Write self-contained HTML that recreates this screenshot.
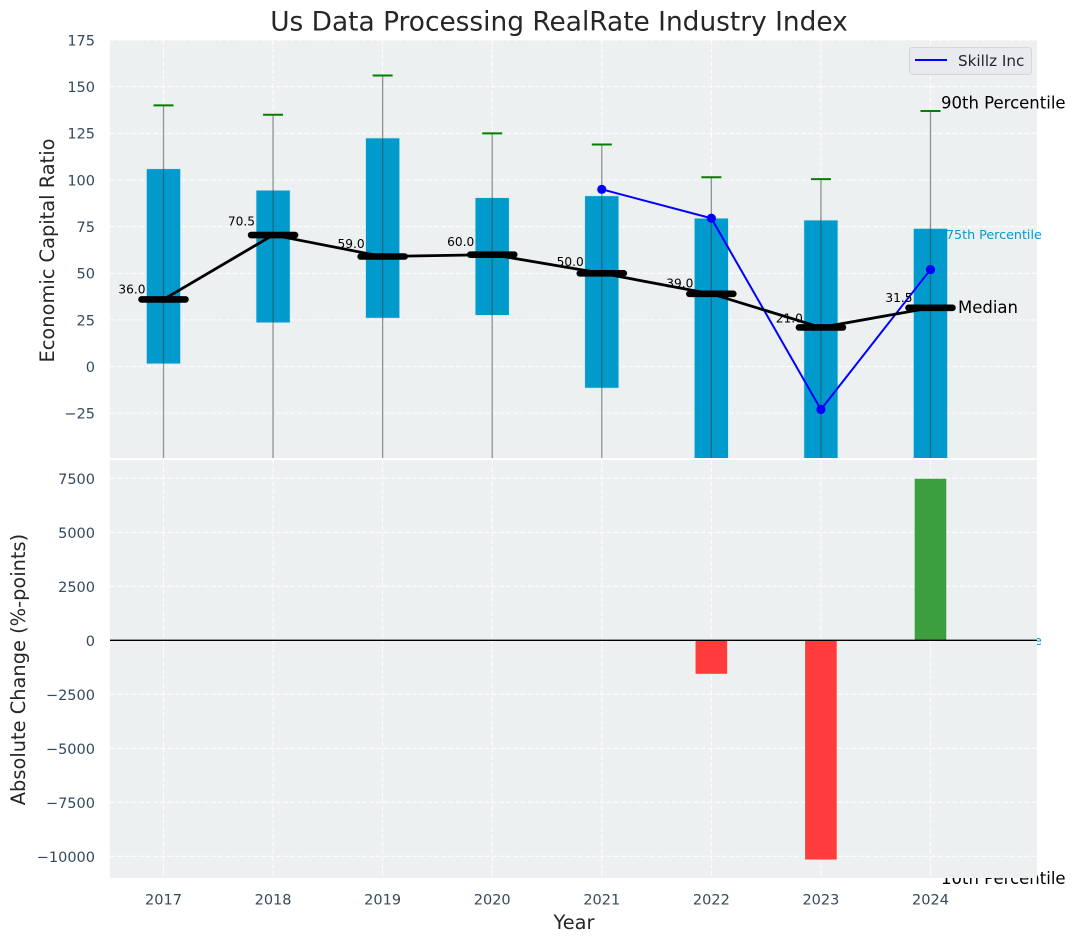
<!DOCTYPE html>
<html lang="en">
<head>
<meta charset="utf-8">
<title>Us Data Processing RealRate Industry Index</title>
<style>
html,body{margin:0;padding:0;background:#fff;}
svg{display:block;font-family:"DejaVu Sans","Liberation Sans",sans-serif;}
</style>
</head>
<body>
<svg id="chart" xmlns="http://www.w3.org/2000/svg" width="1076" height="942" viewBox="0 0 1076 942">
  <defs>
    <clipPath id="top-clip"><rect x="110" y="40" width="927" height="418"/></clipPath>
  </defs>
  <text x="559" y="30.5" text-anchor="middle" font-size="26.4" fill="#262626">Us Data Processing RealRate Industry Index</text>
  <rect x="110" y="40" width="927" height="418" fill="#ecf0f1"/>
  <g id="top-grid"></g>
  <g id="top-marks" clip-path="url(#top-clip)"></g>
  <g id="top-overflow"></g>
  <rect x="110" y="460" width="927" height="418" fill="#ecf0f1"/>
  <g id="bottom-grid"></g>
  <g id="bottom-marks"></g>
  <g id="tick-labels"></g>
  <text transform="translate(54,250.5) rotate(-90)" text-anchor="middle" font-size="19.4" fill="#262626">Economic Capital Ratio</text>
  <text transform="translate(25,669.5) rotate(-90)" text-anchor="middle" font-size="19.4" fill="#262626">Absolute Change (%-points)</text>
  <text x="574" y="929" text-anchor="middle" font-size="19.4" fill="#262626">Year</text>
  <g>
    <rect x="909.5" y="47.5" width="122" height="27" rx="3" fill="#e8eaf0" stroke="#d5d7da" stroke-width="1"/>
    <line x1="915" y1="60" x2="947" y2="60" stroke="#0000ff" stroke-width="2"/>
    <text x="958" y="66" font-size="15.2" fill="#262626">Skillz Inc</text>
  </g>
</svg>
<script>
const years = [2017, 2018, 2019, 2020, 2021, 2022, 2023, 2024];
const p90 = [140, 135, 156, 125, 119, 101.5, 100.5, 137];
const p75 = [106, 94.5, 122.5, 90.5, 91.5, 79.5, 78.5, 74];
const medians = [36, 70.5, 59, 60, 50, 39, 21, 31.5];
const p25 = [1.5, 23.5, 26, 27.5, -11.5, -60, -65, -60];
const p10 = [-90, -85, -80, -85, -90, -120, -130, -100];
const skillzYears = [2021, 2022, 2023, 2024];
const skillzValues = [95, 79.5, -23, 52];
const changeYears = [2022, 2023, 2024];
const changeValues = [-1550, -10150, 7480];
const topTicks = [-25, 0, 25, 50, 75, 100, 125, 150, 175];
const bottomTicks = [-10000, -7500, -5000, -2500, 0, 2500, 5000, 7500];

const NS = 'http://www.w3.org/2000/svg';
const xScale = function (year) { return 163.5 + (year - 2017) * 109.57; };
const yTop = function (v) { return 366.6 - v * 1.866; };
const yBottom = function (v) { return 640.3 - v * 0.0216; };

function make(parent, tag, props, text) {
  const el = document.createElementNS(NS, tag);
  Object.keys(props).forEach(function (k) { el.setAttribute(k, props[k]); });
  if (text !== undefined) { el.textContent = text; }
  parent.appendChild(el);
  return el;
}
function fmt(v) {
  return (v < 0 ? '\u2212' : '') + Math.abs(v);
}

const topGrid = document.getElementById('top-grid');
const bottomGrid = document.getElementById('bottom-grid');
const topMarks = document.getElementById('top-marks');
const topOverflow = document.getElementById('top-overflow');
const bottomMarks = document.getElementById('bottom-marks');
const tickLabels = document.getElementById('tick-labels');
const gridStyle = { stroke: '#ffffff', 'stroke-width': 1.1, 'stroke-dasharray': '5 2.2', 'stroke-opacity': 0.9 };
const tickFont = 14.5;

topTicks.forEach(function (t) {
  const g = make(topGrid, 'line', Object.assign({ x1: 110, x2: 1037, y1: yTop(t), y2: yTop(t) }, gridStyle));
  
  
  const l = make(tickLabels, 'text', { x: 95, y: yTop(t) + 5.3, 'text-anchor': 'end', 'font-size': tickFont, fill: '#34495e' }, fmt(t));
  
  
});
bottomTicks.forEach(function (t) {
  const g = make(bottomGrid, 'line', Object.assign({ x1: 110, x2: 1037, y1: yBottom(t), y2: yBottom(t) }, gridStyle));
  
  
  const l = make(tickLabels, 'text', { x: 95, y: yBottom(t) + 5.6, 'text-anchor': 'end', 'font-size': tickFont, fill: '#34495e' }, fmt(t));
  
  
});
years.forEach(function (yr) {
  const x = xScale(yr);
  const a = make(topGrid, 'line', Object.assign({ x1: x, x2: x, y1: 40, y2: 458 }, gridStyle));
  
  
  const b = make(bottomGrid, 'line', Object.assign({ x1: x, x2: x, y1: 460, y2: 878 }, gridStyle));
  
  
  const l = make(tickLabels, 'text', { x: x, y: 904.5, 'text-anchor': 'middle', 'font-size': tickFont, fill: '#34495e' }, String(yr));
  
  
});

/* interquartile boxes */
years.forEach(function (yr, i) {
  const x = xScale(yr);
  const top = yTop(p75[i]);
  const box = make(topMarks, 'rect', { x: x - 17, y: top, width: 34, height: yTop(p25[i]) - top, fill: '#009bcc', stroke: '#cfe6ef', 'stroke-width': 0.6 });
  
  
});
/* whiskers and 90th percentile caps */
years.forEach(function (yr, i) {
  const x = xScale(yr);
  const w = make(topMarks, 'line', { x1: x, x2: x, y1: yTop(p90[i]), y2: yTop(p10[i]), stroke: '#3a3f44', 'stroke-opacity': 0.55, 'stroke-width': 1.3 });
  
  
  const c = make(topMarks, 'line', { x1: x - 10, x2: x + 10, y1: yTop(p90[i]), y2: yTop(p90[i]), stroke: '#008000', 'stroke-width': 2 });
  
  
});
/* Skillz line */
const skillzLine = make(topMarks, 'polyline', {
  points: skillzYears.map(function (yr, i) { return xScale(yr) + ',' + yTop(skillzValues[i]); }).join(' '),
  fill: 'none', stroke: '#0000ff', 'stroke-width': 2
});


skillzYears.forEach(function (yr, i) {
  const p = make(topMarks, 'circle', { cx: xScale(yr), cy: yTop(skillzValues[i]), r: 4.6, fill: '#0000ff' });
  
  
});
/* Median line, bars and labels */
const medianLine = make(topMarks, 'polyline', {
  points: years.map(function (yr, i) { return xScale(yr) + ',' + yTop(medians[i]); }).join(' '),
  fill: 'none', stroke: '#000000', 'stroke-width': 2.8
});


years.forEach(function (yr, i) {
  const x = xScale(yr);
  const y = yTop(medians[i]);
  const m = make(topMarks, 'line', { x1: x - 22, x2: x + 22, y1: y, y2: y, stroke: '#000000', 'stroke-width': 6.6, 'stroke-linecap': 'round' });
  
  
  const t = make(topMarks, 'text', { x: x - 18, y: yTop(medians[i] * 1.05) - 2.8, 'text-anchor': 'end', 'font-size': 12.2, fill: '#000000' }, medians[i].toFixed(1));
  
  
});

/* percentile annotations for the last year; some sit under the lower panel */
const lastX = xScale(years[years.length - 1]);
const lab90 = make(topOverflow, 'text', { x: lastX + 10.5, y: 108.5, 'font-size': 16.5, fill: '#000000' }, '90th Percentile');


const lab75 = make(topOverflow, 'text', { x: lastX + 15.5, y: 239, 'font-size': 12.7, fill: '#009bcc' }, '75th Percentile');


const labMed = make(topOverflow, 'text', { x: lastX + 27.5, y: 313, 'font-size': 16.5, fill: '#000000' }, 'Median');


const lab25 = make(topOverflow, 'text', { x: lastX + 15.5, y: 645, 'font-size': 12.7, fill: '#009bcc' }, '25th Percentile');


const lab10 = make(topOverflow, 'text', { x: lastX + 10.5, y: 884, 'font-size': 16.5, fill: '#000000' }, '10th Percentile');



/* absolute change bars */
changeYears.forEach(function (yr, i) {
  const v = changeValues[i];
  const y0 = yBottom(0);
  const y1 = yBottom(v);
  const bar = make(bottomMarks, 'rect', {
    x: xScale(yr) - 15.8, y: Math.min(y0, y1), width: 31.6, height: Math.abs(y1 - y0),
    fill: v < 0 ? '#ff3c3c' : '#3d9e40'
  });
  
  
});
const zeroLine = make(bottomMarks, 'line', { x1: 110, x2: 1037, y1: yBottom(0), y2: yBottom(0), stroke: '#000000', 'stroke-width': 1.4 });


</script>
</body>
</html>
